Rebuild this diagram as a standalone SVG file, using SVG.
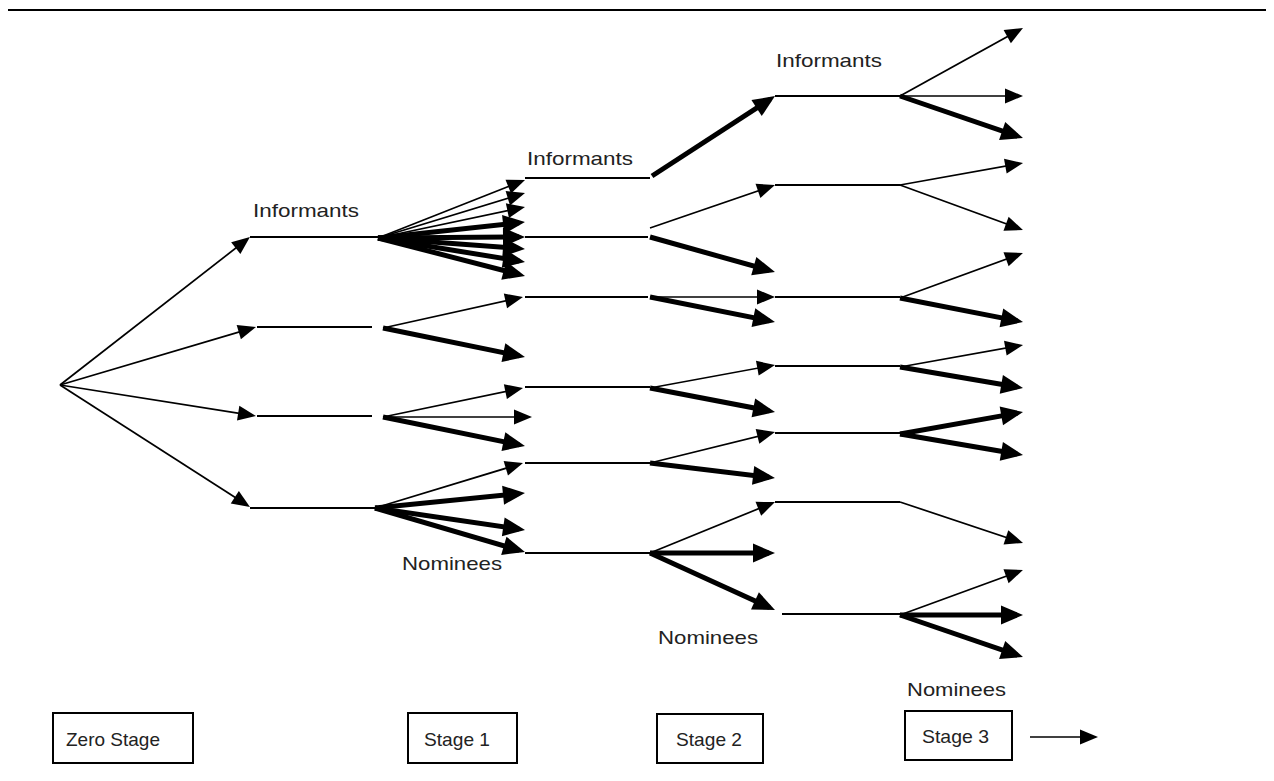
<svg xmlns="http://www.w3.org/2000/svg" width="1274" height="781" viewBox="0 0 1274 781">
<style>
.t{stroke:#000;stroke-width:1.7;fill:none;marker-end:url(#ht)}
.T{stroke:#000;stroke-width:5;fill:none;marker-end:url(#hT)}
.h{stroke:#000;stroke-width:1.8;fill:none}
.lbl{font-family:"Liberation Sans",Arial,sans-serif;font-size:19px;fill:#222}
.box{fill:#fff;stroke:#000;stroke-width:2}
</style>
<defs>
<marker id="ht" markerUnits="userSpaceOnUse" markerWidth="18" markerHeight="15" refX="14" refY="7.5" orient="auto" overflow="visible"><path d="M0,0 L18,7.5 L0,15 z" fill="#000"/></marker>
<marker id="hT" markerUnits="userSpaceOnUse" markerWidth="22" markerHeight="19" refX="16" refY="9.5" orient="auto" overflow="visible"><path d="M0,0 L22,9.5 L0,19 z" fill="#000"/></marker>
</defs>
<rect width="1274" height="781" fill="#fff"/>
<line x1="8" y1="10" x2="1266" y2="10" stroke="#000" stroke-width="2"/>

<g id="edges">
<!-- stage 0 -->
<line class="t" x1="60" y1="385" x2="246.8" y2="239.5"/>
<line class="t" x1="60" y1="385" x2="252.2" y2="328.1"/>
<line class="t" x1="60" y1="385" x2="252" y2="415.4"/>
<line class="t" x1="60" y1="385" x2="246.6" y2="504.8"/>
<!-- horizontals stage 0-1 -->
<line class="h" x1="250" y1="237" x2="378" y2="237"/>
<line class="h" x1="257" y1="327" x2="372" y2="327"/>
<line class="h" x1="257" y1="416" x2="372" y2="416"/>
<line class="h" x1="250" y1="508" x2="375" y2="508"/>
<!-- stage 1 fan -->
<line class="t" x1="378" y1="238" x2="521.3" y2="181.5"/>
<line class="t" x1="378" y1="238" x2="521.2" y2="194.2"/>
<line class="t" x1="378" y1="238" x2="521.1" y2="207.8"/>
<line class="T" x1="378" y1="238" x2="519" y2="222.7"/>
<line class="T" x1="378" y1="238" x2="519" y2="237"/>
<line class="T" x1="378" y1="238" x2="519" y2="248.5"/>
<line class="T" x1="378" y1="238" x2="519.1" y2="261"/>
<line class="T" x1="378" y1="238" x2="519.2" y2="274.5"/>
<!-- stage 1 others -->
<line class="t" x1="383" y1="328" x2="519.1" y2="297.9"/>
<line class="T" x1="383" y1="328" x2="519.1" y2="355.8"/>
<line class="t" x1="383" y1="417" x2="519.1" y2="388.8"/>
<line class="t" x1="383" y1="417" x2="528" y2="417"/>
<line class="T" x1="383" y1="417" x2="519.1" y2="444.8"/>
<line class="t" x1="375" y1="508" x2="519.2" y2="464.2"/>
<line class="T" x1="375" y1="508" x2="519" y2="493.6"/>
<line class="T" x1="375" y1="508" x2="519.1" y2="529.1"/>
<line class="T" x1="375" y1="508" x2="519.2" y2="550.3"/>
<!-- horizontals stage 1-2 -->
<line class="h" x1="525" y1="178" x2="650" y2="178"/>
<line class="h" x1="525" y1="237" x2="648" y2="237"/>
<line class="h" x1="525" y1="297" x2="648" y2="297"/>
<line class="h" x1="525" y1="387" x2="650" y2="387"/>
<line class="h" x1="525" y1="463" x2="650" y2="463"/>
<line class="h" x1="525" y1="553" x2="650" y2="553"/>
<!-- stage 2 -->
<line class="T" x1="652" y1="176" x2="770" y2="99.3"/>
<line class="t" x1="650" y1="228" x2="771.2" y2="186.3"/>
<line class="T" x1="650" y1="237" x2="769.2" y2="270.4"/>
<line class="t" x1="650" y1="297" x2="771" y2="297"/>
<line class="T" x1="650" y1="297" x2="769.1" y2="320.8"/>
<line class="t" x1="650" y1="388" x2="771.1" y2="365.7"/>
<line class="T" x1="650" y1="388" x2="769.1" y2="410.9"/>
<line class="t" x1="650" y1="463" x2="771.1" y2="433"/>
<line class="T" x1="650" y1="463" x2="769" y2="477.3"/>
<line class="t" x1="650" y1="553" x2="771.3" y2="503.5"/>
<line class="T" x1="650" y1="553" x2="769" y2="553"/>
<line class="T" x1="650" y1="553" x2="769.5" y2="607.5"/>
<!-- horizontals stage 2-3 -->
<line class="h" x1="775" y1="96" x2="900" y2="96"/>
<line class="h" x1="775" y1="185" x2="900" y2="185"/>
<line class="h" x1="775" y1="297" x2="900" y2="297"/>
<line class="h" x1="775" y1="366" x2="900" y2="366"/>
<line class="h" x1="775" y1="433" x2="900" y2="433"/>
<line class="h" x1="775" y1="502" x2="900" y2="502"/>
<line class="h" x1="782" y1="614" x2="900" y2="614"/>
<!-- stage 3 -->
<line class="t" x1="900" y1="96" x2="1019.5" y2="29.9"/>
<line class="t" x1="900" y1="96" x2="1019" y2="96"/>
<line class="T" x1="900" y1="96" x2="1017.3" y2="136.1"/>
<line class="t" x1="900" y1="185" x2="1019.1" y2="163.7"/>
<line class="t" x1="900" y1="185" x2="1019.2" y2="228.6"/>
<line class="t" x1="900" y1="298" x2="1019.2" y2="254.4"/>
<line class="T" x1="900" y1="298" x2="1017.1" y2="320.9"/>
<line class="t" x1="900" y1="367" x2="1019.1" y2="345.7"/>
<line class="T" x1="900" y1="367" x2="1017.1" y2="387"/>
<line class="T" x1="900" y1="434" x2="1017.1" y2="413.1"/>
<line class="T" x1="900" y1="434" x2="1017.1" y2="454"/>
<line class="t" x1="900" y1="502" x2="1019.2" y2="541.7"/>
<line class="t" x1="900" y1="615" x2="1019.2" y2="571.4"/>
<line class="T" x1="900" y1="615" x2="1017" y2="615"/>
<line class="T" x1="900" y1="615" x2="1017.3" y2="655.1"/>
<!-- legend arrow -->
<line class="t" x1="1030" y1="737" x2="1094" y2="737"/>
</g>

<g id="labels">
<text class="lbl" x="253" y="217" textLength="106" lengthAdjust="spacingAndGlyphs">Informants</text>
<text class="lbl" x="527" y="165" textLength="106" lengthAdjust="spacingAndGlyphs">Informants</text>
<text class="lbl" x="776" y="67" textLength="106" lengthAdjust="spacingAndGlyphs">Informants</text>
<text class="lbl" x="402" y="570" textLength="100" lengthAdjust="spacingAndGlyphs">Nominees</text>
<text class="lbl" x="658" y="644" textLength="100" lengthAdjust="spacingAndGlyphs">Nominees</text>
<text class="lbl" x="907" y="696" textLength="99" lengthAdjust="spacingAndGlyphs">Nominees</text>
</g>

<g id="stage0">
<rect class="box" x="53" y="713" width="140" height="50"/>
<text class="lbl" x="66" y="746" textLength="94" lengthAdjust="spacingAndGlyphs">Zero Stage</text>
</g>
<g id="stage1">
<rect class="box" x="408" y="713" width="109" height="50"/>
<text class="lbl" x="424" y="746" textLength="66" lengthAdjust="spacingAndGlyphs">Stage 1</text>
</g>
<g id="stage2">
<rect class="box" x="657" y="714" width="106" height="49"/>
<text class="lbl" x="676" y="746" textLength="66" lengthAdjust="spacingAndGlyphs">Stage 2</text>
</g>
<g id="stage3">
<rect class="box" x="905" y="711" width="107" height="49"/>
<text class="lbl" x="922" y="743" textLength="67" lengthAdjust="spacingAndGlyphs">Stage 3</text>
</g>
</svg>
